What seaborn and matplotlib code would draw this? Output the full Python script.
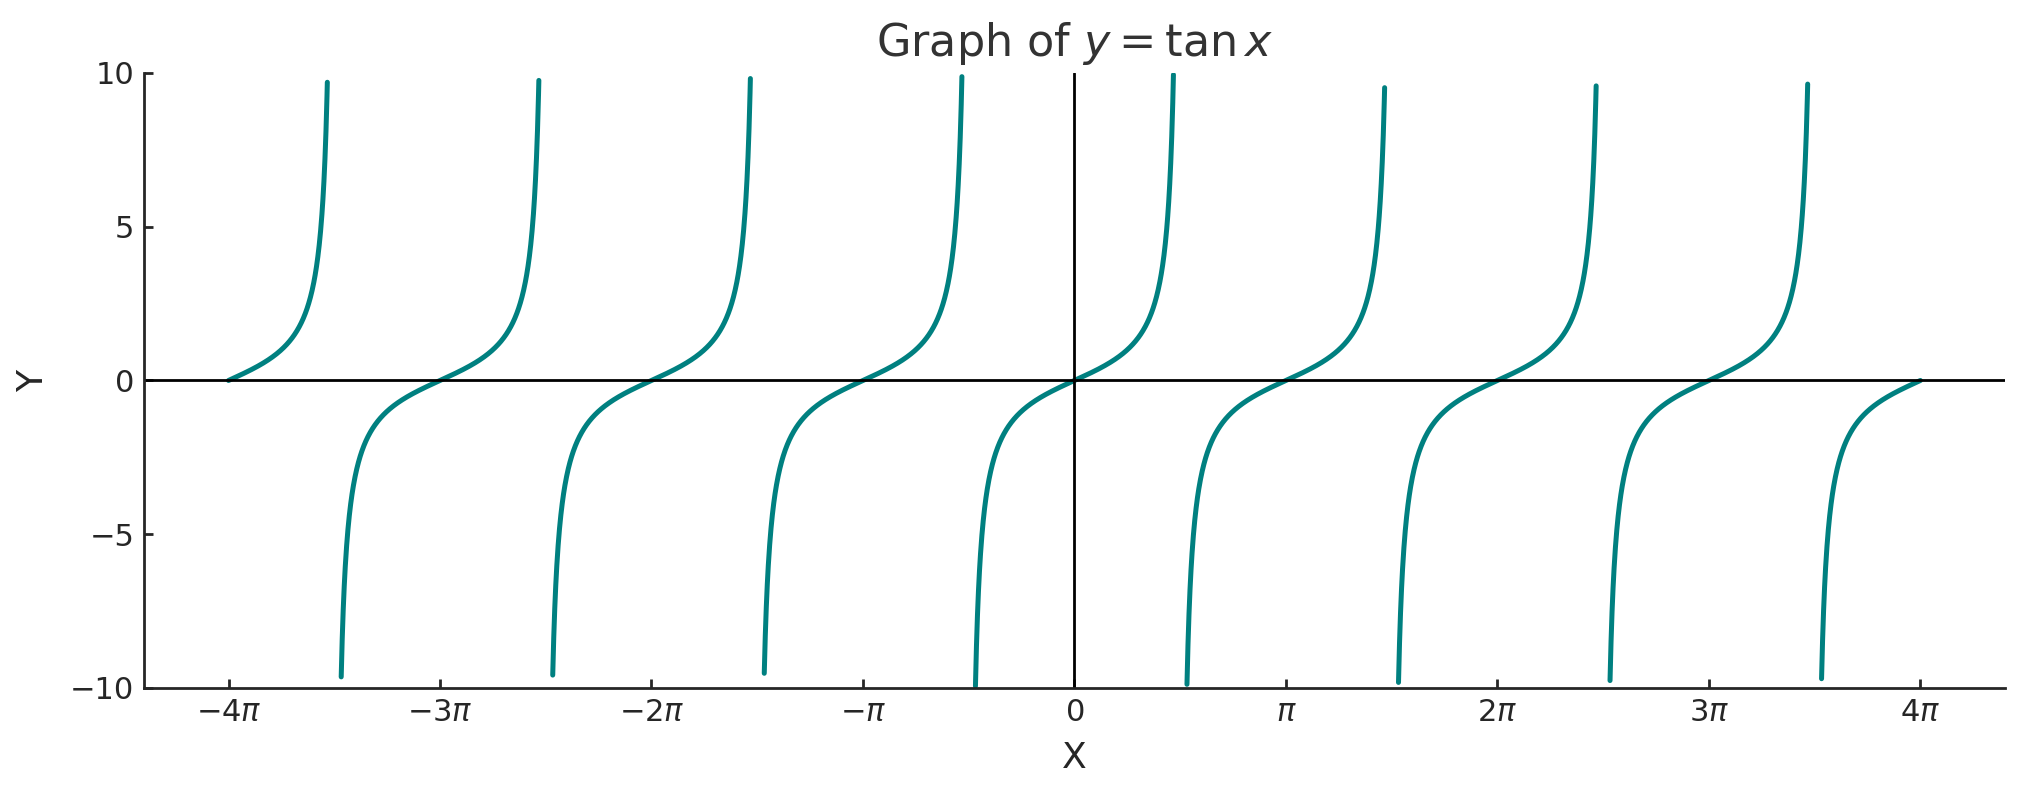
import numpy as np
import pandas as pd
import seaborn as sns
import matplotlib.pyplot as plt

# domain of the curve and the clip on y
x_start, x_end, n_points = -4 * np.pi, 4 * np.pi, 5000
y_clip = 10
tick_multiples = [-4, -3, -2, -1, 0, 1, 2, 3, 4]
tick_labels = ['$-4\\pi$', '$-3\\pi$', '$-2\\pi$', '$-\\pi$', '$0$',
               '$\\pi$', '$2\\pi$', '$3\\pi$', '$4\\pi$']
y_ticks = [-10, -5, 0, 5, 10]

x = np.linspace(x_start, x_end, n_points)
y = np.tan(x)
df = pd.DataFrame({'x': x, 'y': y})
df = df[np.abs(df['y']) <= y_clip].copy()
# each branch of tan between asymptotes
df['branch'] = np.floor((df['x'] + np.pi / 2) / np.pi).astype(int)

sns.set_theme(style='ticks')
plt.rcParams['font.family'] = ['DejaVu Sans']
plt.rcParams['mathtext.fontset'] = 'dejavusans'

fig = plt.figure(figsize=(10.12, 3.975), dpi=200)
ax = fig.add_axes([0.0711, 0.1346, 0.9195, 0.7736])

sns.lineplot(data=df, x='x', y='y', units='branch', estimator=None,
             color='teal', linewidth=1.8, ax=ax)
ax.axhline(0, color='black', linewidth=1)
ax.axvline(0, color='black', linewidth=1)

ax.set_ylim(-y_clip, y_clip)
ax.set_xticks([m * np.pi for m in tick_multiples])
ax.set_xticklabels(tick_labels)
ax.set_yticks(y_ticks)
ax.tick_params(direction='in', length=3.4, width=1, labelsize=11)
for s in ['left', 'bottom']:
    ax.spines[s].set_linewidth(1)
sns.despine(ax=ax)

ax.set_xlabel('X', fontsize=13, labelpad=5)
ax.set_ylabel('Y', fontsize=13, labelpad=7)
ax.set_title('Graph of $y = \\tan x$', fontsize=16, color='#333333', pad=6)

fig.savefig('out.png', dpi=200)
